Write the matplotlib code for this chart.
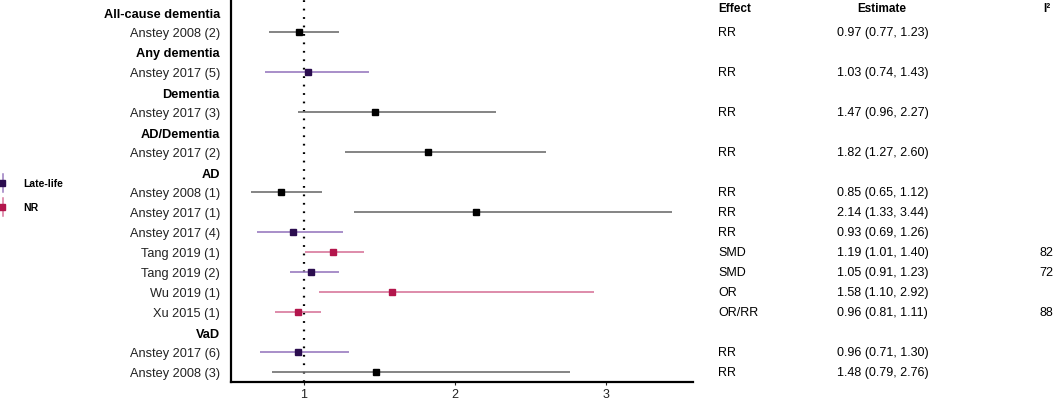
import numpy as np
import matplotlib
matplotlib.use("Agg")
import matplotlib.pyplot as plt
from matplotlib.transforms import blended_transform_factory
from matplotlib.lines import Line2D

plt.rcParams['font.family'] = ['Liberation Sans', 'DejaVu Sans']

# rows from top to bottom
labels = ["All-cause dementia", "Anstey 2008 (2)", "Any dementia", "Anstey 2017 (5)",
          "Dementia", "Anstey 2017 (3)", "AD/Dementia", "Anstey 2017 (2)", "AD",
          "Anstey 2008 (1)", "Anstey 2017 (1)", "Anstey 2017 (4)", "Tang 2019 (1)",
          "Tang 2019 (2)", "Wu 2019 (1)", "Xu 2015 (1)", "VaD", "Anstey 2017 (6)",
          "Anstey 2008 (3)"]
is_header = [True, False, True, False, True, False, True, False, True,
             False, False, False, False, False, False, False, True, False, False]
nan = np.nan
est = [nan, 0.97, nan, 1.03, nan, 1.47, nan, 1.82, nan, 0.85, 2.14, 0.93, 1.19, 1.05, 1.58, 0.96, nan, 0.96, 1.48]
lo = [nan, 0.77, nan, 0.74, nan, 0.96, nan, 1.27, nan, 0.65, 1.33, 0.69, 1.01, 0.91, 1.10, 0.81, nan, 0.71, 0.79]
hi = [nan, 1.23, nan, 1.43, nan, 2.27, nan, 2.60, nan, 1.12, 3.44, 1.26, 1.40, 1.23, 2.92, 1.11, nan, 1.30, 2.76]
effect = ["", "RR", "", "RR", "", "RR", "", "RR", "", "RR", "RR", "RR", "SMD", "SMD", "OR", "OR/RR", "", "RR", "RR"]
i2 = ["", "", "", "", "", "", "", "", "", "", "", "", "82", "72", "", "88", "", "", ""]
group = ["", "Other", "", "Late-life", "", "Other", "", "Other", "", "Other", "Other",
         "Late-life", "NR", "Late-life", "NR", "NR", "", "Late-life", "Other"]

line_col = {"Other": "#6f6f6f", "Late-life": "#9a7cc0", "NR": "#d8789c"}
mark_col = {"Other": "black", "Late-life": "#2b0d4f", "NR": "#b3154c"}

W, H = 1053, 402
fig = plt.figure(figsize=(W / 100, H / 100), dpi=100)
ax = fig.add_axes([231 / W, 19 / H, (693 - 231) / W, (H - 19) / H])

n = len(labels)
y = np.arange(n)
for i in range(n):
    if is_header[i]:
        continue
    g = group[i]
    ax.plot([lo[i], hi[i]], [y[i], y[i]], color=line_col[g], lw=1.2, solid_capstyle='butt', zorder=2)
    ax.plot(est[i], y[i], marker='s', ms=4.6, color=mark_col[g], lw=0, zorder=3)

ax.axvline(1, color='black', lw=1.6, linestyle=(0, (0.8, 3.0)), zorder=1)

ax.set_xlim(0.517, 3.576)
ax.set_ylim(n - 0.5, -0.65)
ax.set_xticks([1, 2, 3])
ax.set_xticklabels(["1", "2", "3"], fontsize=9)
ax.set_yticks(y)
ax.set_yticklabels(labels, fontsize=9.2, color='#222222')
for tl, hd in zip(ax.get_yticklabels(), is_header):
    if hd:
        tl.set_fontweight('bold')
        tl.set_color('black')
ax.tick_params(axis='y', length=0, pad=8)
ax.tick_params(axis='x', length=2.5, width=0.8, pad=2, colors='#222222')
for s in ['top', 'right']:
    ax.spines[s].set_visible(False)
for s in ['left', 'bottom']:
    ax.spines[s].set_linewidth(1.6)
    ax.spines[s].set_color('black')

# text columns on the right
tr = blended_transform_factory(fig.transFigure, ax.transData)
ax.text(718 / W, -0.22, "Effect", transform=tr, fontsize=8.5, fontweight='bold', va='center', ha='left', clip_on=False)
ax.text(882 / W, -0.22, "Estimate", transform=tr, fontsize=8.5, fontweight='bold', va='center', ha='center', clip_on=False)
ax.text(1043 / W, -0.22, "I²", transform=tr, fontsize=8.5, fontweight='bold', va='center', ha='left', clip_on=False)
for i in range(n):
    if is_header[i]:
        continue
    ax.text(718 / W, y[i], effect[i], transform=tr, fontsize=9, va='center', ha='left', clip_on=False)
    ax.text(837 / W, y[i], "%.2f (%.2f, %.2f)" % (est[i], lo[i], hi[i]), transform=tr,
            fontsize=9, va='center', ha='left', clip_on=False)
    if i2[i]:
        ax.text(1039 / W, y[i], i2[i], transform=tr, fontsize=9, va='center', ha='left', clip_on=False)

# legend at far left
leg_names = ["Late-life", "NR"]
leg_y = [184, 208]
for name, py in zip(leg_names, leg_y):
    fy = 1 - py / H
    fig.add_artist(Line2D([3 / W, 3 / W], [fy - 9 / H, fy + 9 / H], transform=fig.transFigure,
                          color=line_col[name], lw=1.1))
    fig.add_artist(Line2D([2 / W], [fy], transform=fig.transFigure, marker='s', ms=4.6,
                          color=mark_col[name], lw=0))
    fig.text(23 / W, fy, name, fontsize=7.5, fontweight='bold', va='center', ha='left')

fig.savefig("out.png", dpi=100)
